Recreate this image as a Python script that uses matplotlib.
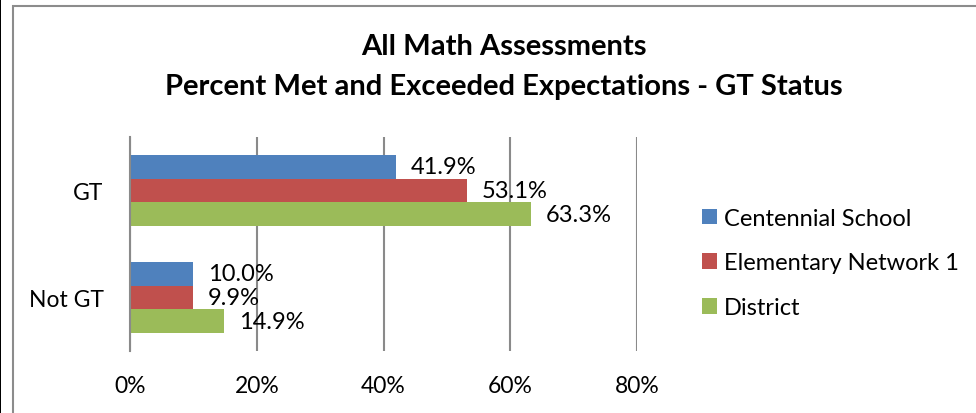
import matplotlib.pyplot as plt
from matplotlib.patches import Rectangle

plt.rcParams['font.family'] = ['Lato', 'DejaVu Sans']

# Percent met and exceeded expectations, by GT status
categories = ['GT', 'Not GT']
series_names = ['Centennial School', 'Elementary Network 1', 'District']
centennial = [41.9, 10.0]
network = [53.1, 9.9]
district = [63.3, 14.9]
xticks = [0, 20, 40, 60, 80]

colors = ['#4F81BD', '#C0504D', '#9BBB59']
bar_h = 0.224

fig = plt.figure(figsize=(9.76, 4.14), dpi=100)
ax = fig.add_axes([130 / 976, 62 / 414, 507 / 976, 214 / 414])

for i, (name, vals, col) in enumerate(zip(series_names, [centennial, network, district], colors)):
    ys = [c + (i - 1) * bar_h for c in range(len(categories))]
    bars = ax.barh(ys, vals, height=bar_h, color=col, label=name, zorder=2)
    for y, v in zip(ys, vals):
        ax.annotate(f'{v:.1f}%', (v, y), xytext=(10.8, 0), textcoords='offset points',
                    va='center', ha='left', fontsize=17, color='#000000')

ax.set_ylim(1.5, -0.5)
ax.set_xlim(0, 80)
ax.set_xticks(xticks)
ax.set_xticklabels([f'{t}%' for t in xticks])
ax.set_yticks(range(len(categories)))
ax.set_yticklabels(categories)
ax.tick_params(axis='both', length=0, labelsize=16.5)
ax.tick_params(axis='x', pad=17)
ax.tick_params(axis='y', pad=19)
ax.grid(axis='x', color='#8a8a8a', linewidth=1.5, zorder=0)
for s in ['top', 'right', 'bottom']:
    ax.spines[s].set_visible(False)
ax.spines['left'].set_color('#8a8a8a')
ax.spines['left'].set_linewidth(1.5)
ax.spines['left'].set_zorder(3)

ax.legend(loc='center left', bbox_to_anchor=(702 / 976, 1 - 264 / 414), bbox_transform=fig.transFigure,
          frameon=False, fontsize=17, handlelength=0.64, handleheight=0.64,
          handletextpad=0.3, labelspacing=1.0, borderpad=0, borderaxespad=0)

fig.text(504 / 976, 1 - 47 / 414, 'All Math Assessments', ha='center', va='center',
         fontsize=21, fontweight='bold')
fig.text(504 / 976, 1 - 87 / 414, 'Percent Met and Exceeded Expectations - GT Status',
         ha='center', va='center', fontsize=21, fontweight='bold')

# outer chart frame and page edge
fig.patches.append(Rectangle((12.5 / 976, -0.1), 1.2, 1 - 6.5 / 414 + 0.1, transform=fig.transFigure,
                             fill=False, edgecolor='#8c8c8c', linewidth=1.5))
fig.patches.append(Rectangle((0, 0), 0.5 / 976, 1, transform=fig.transFigure,
                             color='#000000', linewidth=0))

fig.savefig('out.png', dpi=100)
